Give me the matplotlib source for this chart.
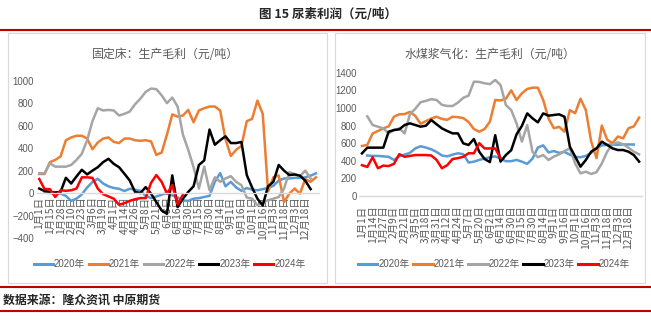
import numpy as np
import matplotlib
matplotlib.use("Agg")
import matplotlib.pyplot as plt
from matplotlib import font_manager
from matplotlib.lines import Line2D
from matplotlib.patches import Rectangle

nan = np.nan

# weekly margins, one list per year, same category axis (53 slots)
years = ["2020年", "2021年", "2022年", "2023年", "2024年"]
colors = ["#5B9BD5", "#ED7D31", "#A5A5A5", "#000000", "#FF0000"]

dates_fixed = ["1月1日", "1月15日", "1月28日", "2月10日", "2月23日", "3月6日",
               "3月19日", "4月1日", "4月14日", "4月26日", "5月8日", "5月21日",
               "6月3日", "6月16日", "6月30日", "7月15日", "7月30日", "8月14日",
               "9月1日", "9月16日", "10月1日", "10月16日", "11月3日", "11月18日",
               "12月3日", "12月18日"]
dates_slurry = ["1月1日", "1月14日", "1月27日", "2月9日", "2月21日", "3月5日",
                "3月18日", "3月31日", "4月12日", "4月24日", "5月7日", "5月20日",
                "6月2日", "6月14日", "6月30日", "7月15日", "7月30日", "8月14日",
                "9月1日", "9月16日", "10月1日", "10月16日", "11月3日", "11月18日",
                "12月3日", "12月18日"]

# 固定床
fixed_2020 = [nan, 5, 0, -5, -5, -25, -70, -50, -12, 50,
              98, 127, 85, 60, 45, 38, 18, 38, 30, 20,
              -25, -45, -30, -15, 0, -20, -40, -65, -70, -50,
              -45, -35, -25, 100, 178, 60, 100, 50, 20, 45,
              30, 25, 35, 45, 65, 110, 130, 130, 135, 135,
              140, 155, 175]
fixed_2021 = [170, 170, 275, 295, 325, 470, 495, 510, 510, 485,
              390, 450, 485, 495, 455, 445, 485, 485, 470, 465,
              470, 460, 340, 360, 520, 700, 680, 690, 740, 630,
              735, 755, 770, 770, 735, 480, 330, 385, 420, 640,
              660, 823, 705, 15, 140, 157, -80, -5, 40, -5,
              125, 100, 140]
fixed_2022 = [176, 176, 265, 235, 235, 235, 250, 295, 350, 470,
              640, 755, 735, 740, 735, 690, 705, 725, 790, 840,
              900, 930, 925, 870, 800, 850, 770, 520, 385, 230,
              40, 235, 25, 140, 100, 130, 150, 100, 70, -40,
              -50, -110, -80, -65, -50, -35, 40, 185, 170, 150,
              200, 130, nan]
fixed_2023 = [40, 18, 10, 5, 10, 136, 85, 148, 207, 166,
              200, 230, 275, 305, 260, 230, 172, 112, 10, 0,
              53, -5, -80, -155, -185, 157, -125, -50, 10, 60,
              250, 290, 565, 430, 470, 505, 445, 445, 455, 160,
              50, -50, -110, 60, 100, 250, 200, 160, 165, 155,
              110, 35, nan]
fixed_2024 = [125, 35, 35, -35, 25, 20, 25, 40, 140, 140,
              135, 40, -10, -30, -50, -105, -90, -70, -55, -45,
              -45, 90, 160, 100, -5, 70, -100, -15, nan, nan,
              nan, nan, nan, nan, nan, nan, nan, nan, nan, nan,
              nan, nan, nan, nan, nan, nan, nan, nan, nan, nan,
              nan, nan, nan]

# 水煤浆气化
slurry_2020 = [nan, 460, 455, 455, 450, 445, 410, 450, 470, 490,
               540, 565, 550, 530, 500, 460, 450, 470, 485, 475,
               380, 390, 410, 425, 440, 450, 425, 395, 395, 410,
               390, 365, 425, 550, 575, 495, 510, 490, 500, 470,
               445, 440, 455, 490, 540, 575, 580, 585, 580, 585,
               585, 585, nan]
slurry_2021 = [568, 580, 710, 738, 768, 790, 900, 927, 930, 955,
               910, 820, 850, 880, 900, 875, 865, 900, 895, 885,
               840, 760, 730, 760, 844, 1090, 1085, 1105, 1200, 1090,
               1165, 1215, 1230, 1230, 1090, 880, 770, 785, 730, 975,
               940, 1105, 975, 620, 430, 800, 640, 600, 675, 655,
               770, 790, 890]
slurry_2022 = [nan, 905, 806, 787, 768, 711, 749, 768, 711, 930,
               990, 1065, 1080, 1100, 1090, 1035, 1022, 1022, 1060, 1115,
               1140, 1298, 1295, 1280, 1270, 1317, 1260, 1033, 976, 825,
               617, 806, 500, 440, 465, 409, 447, 473, 510, 541,
               370, 257, 276, 250, 270, 370, 503, 587, 609, 587,
               549, 503, 473]
slurry_2023 = [484, 549, 549, 549, 549, 730, 749, 757, 806, 825,
               806, 787, 798, 863, 814, 768, 738, 711, 711, 598,
               579, 647, 503, 420, 385, 690, 390, 465, 520, 700,
               795, 938, 882, 836, 938, 912, 920, 927, 900, 560,
               447, 333, 409, 503, 541, 617, 580, 541, 522, 522,
               503, 465, 390]
slurry_2024 = [350, 330, 440, 315, 345, 340, 365, 475, 445, 455,
               465, 465, 465, 460, 410, 315, 350, 420, 430, 445,
               485, 485, 600, 540, 540, 540, 430, nan, nan, nan,
               nan, nan, nan, nan, nan, nan, nan, nan, nan, nan,
               nan, nan, nan, nan, nan, nan, nan, nan, nan, nan,
               nan, nan, nan]

fixed = [fixed_2020, fixed_2021, fixed_2022, fixed_2023, fixed_2024]
slurry = [slurry_2020, slurry_2021, slurry_2022, slurry_2023, slurry_2024]

# fonts: narrow latin for numbers, CJK fallback
names = {f.name for f in font_manager.fontManager.ttflist}
num_font = "Liberation Sans Narrow" if "Liberation Sans Narrow" in names else "Liberation Sans"
cjk = "Noto Sans CJK SC"
plt.rcParams["font.family"] = [num_font, cjk]
grey_txt = "#595959"

W, H = 651, 323
fig = plt.figure(figsize=(W / 100, H / 100), dpi=100)


def fx(px):
    return px / W


def fy(py):
    return 1 - py / H


def draw_panel(rect, series, dates, ylim, ystep, title, title_x, legend_x, label_pad):
    ax = fig.add_axes(rect)
    x = np.arange(53)
    for vals, c, lab in zip(series, colors, years):
        ax.plot(x, vals, color=c, lw=1.8, label=lab)
    ax.set_xlim(-0.5, 52.5)
    ax.set_ylim(*ylim)
    # spine position first: moving it rebuilds the ticks
    for side in ["top", "right", "left"]:
        ax.spines[side].set_visible(False)
    ax.spines["bottom"].set_position(("data", 0))
    ax.spines["bottom"].set_color("#D9D9D9")
    ax.spines["bottom"].set_linewidth(1.0)
    ax.patch.set_alpha(0)

    ax.tick_params(axis="both", length=0)
    ax.tick_params(axis="x", pad=label_pad, labelrotation=90,
                   labelsize=7.4, labelcolor=grey_txt)
    ax.tick_params(axis="y", pad=2, labelsize=6.9, labelcolor=grey_txt)
    ax.set_yticks(np.arange(ylim[0], ylim[1] + 1, ystep))
    ax.set_xticks(np.arange(0, 52, 2))
    ax.set_xticklabels(dates, va="top", ha="center", family=[cjk])

    fig.text(fx(title_x), fy(54), title, ha="center", va="center",
             fontsize=8.6, color=grey_txt, family=[cjk])
    handles = [Line2D([], [], color=c, lw=2.2) for c in colors]
    leg = ax.legend(handles, years, ncol=5, loc="center",
                    bbox_to_anchor=(fx(legend_x), fy(264)),
                    bbox_transform=fig.transFigure, frameon=False,
                    fontsize=7.0, handlelength=2.0, handletextpad=0.1,
                    columnspacing=0.35, borderpad=0)
    for t in leg.get_texts():
        t.set_color(grey_txt)
    return ax


# panel frames
fig.add_artist(Rectangle((fx(8), fy(282.5)), fx(318.5), 249.5 / H,
                         transform=fig.transFigure, fill=False,
                         edgecolor="#D9D9D9", lw=0.8))
fig.add_artist(Rectangle((fx(335), fy(282.5)), fx(310), 249.5 / H,
                         transform=fig.transFigure, fill=False,
                         edgecolor="#D9D9D9", lw=0.8))

draw_panel([fx(36.6), fy(238), fx(282), (238 - 80.7) / H], fixed, dates_fixed,
           (-400, 1000), 200, "固定床：生产毛利（元/吨）", 165, 169.5, 2.5)
draw_panel([fx(359.3), fy(196), fx(282.5), (196 - 72.7) / H], slurry, dates_slurry,
           (0, 1400), 200, "水煤浆气化：生产毛利（元/吨）", 490, 494, 7)

# header / footer
fig.text(fx(328), fy(15), "图 15 尿素利润（元/吨）", ha="center", va="center",
         fontsize=9, fontweight="bold", color="#262626", family=[cjk])
fig.text(fx(3), fy(300), "数据来源：隆众资讯 中原期货", ha="left", va="center",
         fontsize=8.6, fontweight="bold", color="#262626", family=[cjk])
for yy in [30, 287, 311]:
    fig.add_artist(Line2D([0, 1], [fy(yy), fy(yy)], transform=fig.transFigure,
                          color="#C00000", lw=1.5))

fig.savefig("out.png", dpi=100)
